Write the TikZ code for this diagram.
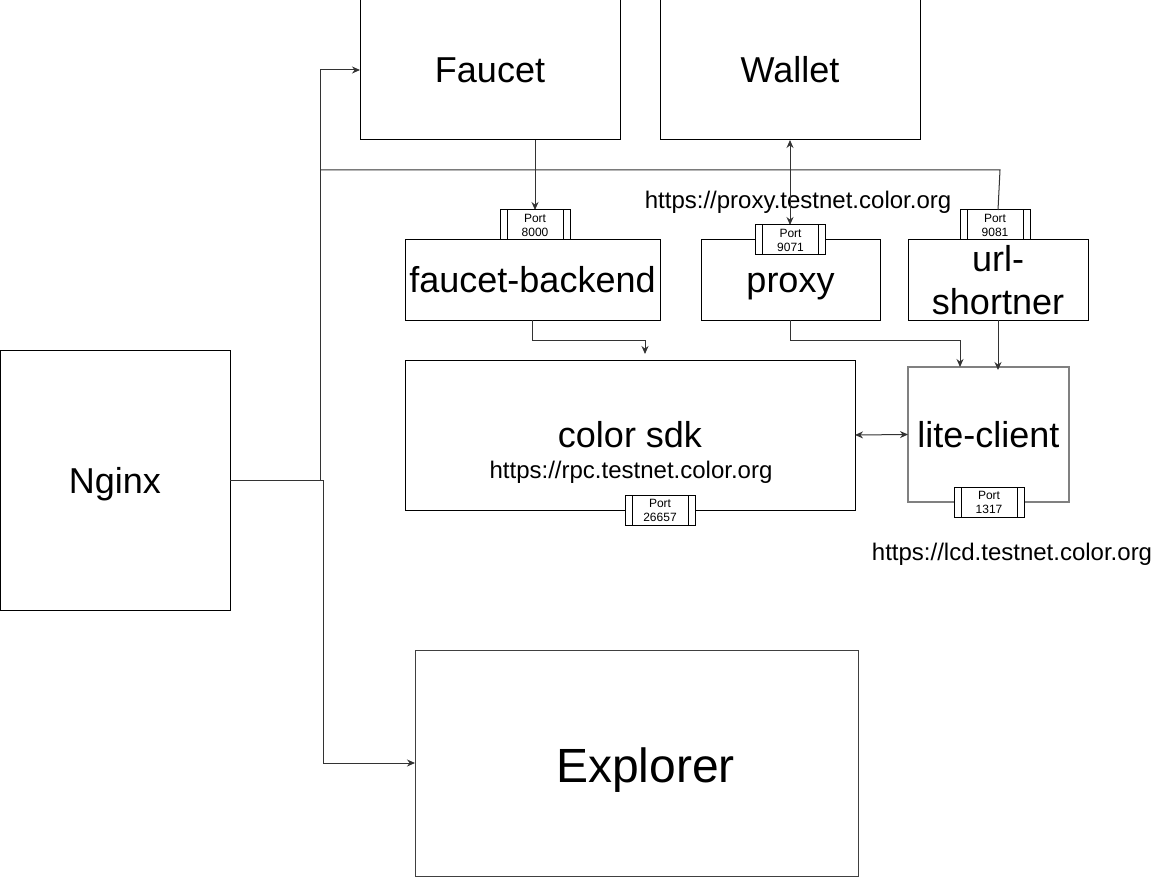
\documentclass[tikz,border=0pt]{standalone}
\usepackage{fontspec}
\setmainfont{Liberation Sans}
\usetikzlibrary{arrows.meta}
\begin{document}
\begin{tikzpicture}[x=1pt,y=-1pt,
  box/.style={draw=black, line width=1pt, inner sep=0pt, outer sep=0pt, align=center, font=\fontsize{36}{43}\selectfont},
  big/.style={font=\fontsize{36}{43}\selectfont, inner sep=0pt},
  url/.style={font=\fontsize{24}{28}\selectfont, inner sep=0pt, text height=17pt, text depth=0pt},
  nodesc/.style={text height=26pt, text depth=0pt},
  port/.style={draw=black, line width=1pt, fill=white, minimum width=70pt, minimum height=30pt, inner sep=0pt, outer sep=0pt, align=center, font=\fontsize{12}{14}\selectfont,
    path picture={\draw[line width=1pt] ([xshift=7pt]path picture bounding box.north west) -- ([xshift=7pt]path picture bounding box.south west);
                  \draw[line width=1pt] ([xshift=-7pt]path picture bounding box.north east) -- ([xshift=-7pt]path picture bounding box.south east);}},
  conn/.style={draw=black!80, line width=1pt},
  arr/.style={-{Stealth[length=8pt,width=7pt]}},
  darr/.style={{Stealth[length=8pt,width=7pt]}-{Stealth[length=8pt,width=7pt]}}
]
\useasboundingbox (0,0) rectangle (1175,877);

% boxes
\node[box, minimum width=260pt, minimum height=140pt] (faucet) at (490,70) {Faucet};
\node[box, minimum width=260pt, minimum height=140pt] (wallet) at (790,70) {Wallet};
\node[box, minimum width=255pt, minimum height=80pt] (fb) at (532.5,280) {faucet-backend};
\node[box, nodesc, minimum width=179pt, minimum height=80pt] (proxy) at (790.5,280) {proxy};
\node[box, minimum width=180pt, minimum height=80pt] (urlbox) at (998,280) {url-\\shortner};
\node[box, minimum width=450pt, minimum height=150pt] (sdk) at (630,435) {};
\node[big] (sdkname) at (630,435) {color sdk};
\node[url] (rpc) at (631,470) {https://rpc.testnet.color.org};
\node[box, draw=black!50, line width=1.5pt, minimum width=161pt, minimum height=135pt] (lite) at (988.5,434.5) {lite-client};
\node[box, nodesc, minimum width=230pt, minimum height=260pt] (nginx) at (115,480) {Nginx};
\node[box, draw=black!75, minimum width=443pt, minimum height=226pt] (explorer) at (636.5,763) {};
\node[font=\fontsize{48}{56}\selectfont, inner sep=0pt, text height=34.5pt, text depth=0pt] (explorertext) at (645.5,765) {Explorer};

% url labels
\node[url] (proxyurl) at (798,200) {https://proxy.testnet.color.org};
\node[url] (lcdurl) at (1012,552) {https://lcd.testnet.color.org};

% connectors
\coordinate (j1) at (320,480);
\coordinate (j2) at (323,480);
\coordinate (j3) at (320,170);
\coordinate (k1) at (1000,170);
\coordinate (e1) at (645,354);

\draw[conn, arr] (nginx.east) -- (j1) |- (faucet.west);
\draw[conn, arr] (j1) -- (j2) |- (explorer.west);
\draw[conn, arr] (faucet.south -| 535,0) -- (535,210);
\draw[conn, darr] (wallet.south) -- (790,225);
\draw[conn, arr] (fb.south) -- ++(0,20) -| (e1);
\draw[conn, arr] (proxy.south) -- ++(0,20) -| ([xshift=-28.5pt]lite.north);
\draw[conn, arr] (urlbox.south) -- ([yshift=-3pt]urlbox.south |- lite.north);
\draw[conn, darr] (sdk.east) -- (lite.west);

% ports
\node[port] (p8000) at (535,225) {Port\\8000};
\node[port] (p9071) at (790.5,240) {Port\\9071};
\node[port] (p9081) at (995,225) {Port\\9081};
\node[port] (p26657) at (660,510) {Port\\26657};
\node[port] (p1317) at (989,502) {Port\\1317};

\draw[conn] ([xshift=3pt]p9081.north) -- (k1) -- (j3);
\end{tikzpicture}
\end{document}
